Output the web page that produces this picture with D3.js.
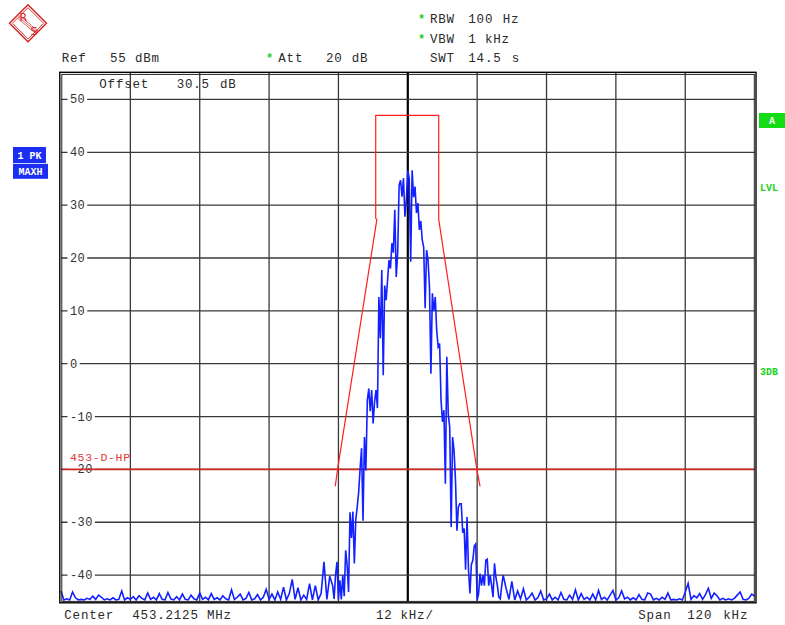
<!DOCTYPE html>
<html lang="en">
<head>
<meta charset="UTF-8">
<title>Spectrum 453.2125 MHz</title>
<script src="https://d3js.org/d3.v7.min.js"></script>
<style>
  body { margin: 0; background: #fff; }
  svg text { font-family: "Liberation Mono", "DejaVu Sans Mono", monospace; }
</style>
</head>
<body>
<script>
// span and level axis
const spanKHz = [-60, 60];
const levelRange = [-45, 55];
const levelTicks = [50, 40, 30, 20, 10, 0, -10, -20, -30, -40];
const freqGrid = [-48, -36, -24, -12, 0, 12, 24, 36, 48];
const limitLevel = -20;

// spectrum mask (kHz offset / dB)
const maskFreq = [-12.55, -12.15, -5.35, -5.55, -5.55, 5.35, 5.35, 11.95, 12.5];
const maskLevel = [-23.2, -20, 27.3, 27.5, 47, 47, 27.3, -20, -23.2];

// trace, left noise floor: -60 .. -13.5 kHz, 0.5 kHz steps
const floorLeft = [
  -43, -44.7, -44.5, -44.7, -43.2, -44.3, -44.7, -44.6, -44.7, -44.4,
  -44.6, -44, -44.6, -43.8, -44.2, -44.7, -44.5, -44.7, -44.3, -44.7,
  -44.6, -43, -44.7, -44.3, -44.6, -44.1, -44.7, -43.9, -44.4, -44.7,
  -43.4, -44.6, -44.2, -44.7, -43.5, -44.6, -44.7, -43.3, -44.5, -44.7,
  -44.1, -44.7, -43.6, -44.6, -44.7, -43.8, -44.5, -44.7, -43.4, -44.6,
  -44.2, -44.7, -43.5, -44.6, -44.3, -44.7, -43.9, -44.5, -44.7, -42.8,
  -44.6, -44.2, -43.6, -44.7, -44.4, -43.3, -44.7, -44.5, -43.7, -44.7,
  -44.2, -42.7, -44.6, -43.6, -44.7, -43.2, -44.6, -42.3, -44.7, -43.5,
  -40.8, -44.6, -42.4, -44.7, -43.8, -44.6, -41.6, -44.7, -42, -44.7,
  -43.5, -37.5, -44.6, -40.2
];

// trace, signal core: -13 .. 16.5 kHz, 0.25 kHz steps
const core = [
  -42, -44.5, -40, -37.5, -44.6, -41, -44.6, -40, -44, -35.3,
  -38, -43.2, -28.1, -33, -28, -37.8, -29.5, -27.1, -24.3, -19.8,
  -16, -29.7, -13.9, -20.2, -6.9, -4.7, -9, -5, -11.3, -7.2,
  -5, -8.4, 12.6, 4.8, 17.7, -2.2, 14.8, 12, 15.8, 19.6,
  18, 22.8, 21, 29.1, 16.4, 21, 33.8, 34.7, 31.6, 35.1,
  27.8, 31, 36.6, 35, 19.3, 36.6, 31.5, 33.5, 28.5, 30.4,
  25.3, 27, 23.4, 22, 10.5, 21.5, 19.6, 14.5, -1.9, 13.3,
  10, 12.6, 6.3, 3.2, 3.8, -6.9, -11, -8.8, -22.7, 1.3,
  -9.5, -12, -30.9, -13.9, -16.4, -22, -31.6, -27.1, -26.5, -26.5,
  -32, -31.2, -39, -29, -39, -43.5, -38, -37.2, -34.5, -34.1,
  -44.8, -43.5, -39.7, -42, -40, -42, -37.2, -37, -42, -40,
  -42, -44.2, -37.8, -40.5, -42, -44.2, -44.5, -42, -40
];

// trace, right noise floor: 17 .. 60 kHz, 0.5 kHz steps
const floorRight = [
  -42.5, -44.6, -41.2, -44.7, -43, -44.5, -42.6, -44.7, -44.2, -43.4,
  -44.7, -44.3, -43, -44.7, -44.5, -43.6, -44.7, -44.2, -44.7, -43.3,
  -44.6, -44.7, -43.8, -44.6, -42.8, -44.7, -43.5, -44.6, -44.2, -44.7,
  -43.6, -44.7, -42.9, -44.6, -44.2, -44.7, -43.8, -42.9, -44.7, -44.3,
  -43, -44.5, -44.2, -44.7, -44.3, -44.7, -43.7, -44.6, -44.7, -43.4,
  -43.6, -44.7, -44.4, -44.7, -44.2, -44.6, -43.4, -44.7, -44.6, -44.7,
  -44.5, -44.7, -43.2, -41.6, -44.6, -43.9, -44.3, -43.5, -44.6, -43.7,
  -42.5, -44.4, -43.4, -43.9, -44.7, -44.4, -44.7, -44.5, -44.7, -44.4,
  -43.8, -43.2, -44.6, -44.7, -44.4, -43.6, -44
];

const W = 785, H = 625;
const plotL = 61, plotR = 754.6, plotT = 73, plotB = 601.5;
const textCol = "#2a2a2a";
const fs = 12.5;

const svg = d3.select("body").append("svg")
  .attr("width", W)
  .attr("height", H);

const x = d3.scaleLinear().domain(spanKHz).range([plotL, plotR]);
const y = d3.scaleLinear().domain(levelRange).range([plotB, plotT]);

// grid
const grid = svg.append("g");
grid.selectAll("line.v").data(freqGrid).join("line")
  .attr("x1", d => x(d)).attr("x2", d => x(d))
  .attr("y1", plotT).attr("y2", plotB)
  .attr("stroke", d => d === 0 ? "#000" : "#3a3a3a")
  .attr("stroke-width", d => d === 0 ? 2.2 : 1.3);
grid.selectAll("line.h").data(levelTicks).join("line")
  .attr("x1", plotL).attr("x2", plotR)
  .attr("y1", d => y(d)).attr("y2", d => y(d))
  .attr("stroke", "#3a3a3a")
  .attr("stroke-width", 1.3);

// level labels sitting on the grid lines
const lab = svg.append("g");
levelTicks.forEach(v => {
  const g = lab.append("g");
  const bg = g.append("rect").attr("fill", "#fff");
  const t = g.append("text")
    .attr("x", 70).attr("y", y(v) + 4)
    .attr("font-size", 12).attr("letter-spacing", 0.4)
    .attr("fill", "#333")
    .text(v < 0 ? "-" + Math.abs(v) : v);
  const w = t.node().getComputedTextLength();
  bg.attr("x", 67.5).attr("y", y(v) - 2).attr("width", w + 4.5).attr("height", 4);
});

// limit line
svg.append("line")
  .attr("x1", plotL).attr("x2", plotR)
  .attr("y1", y(limitLevel)).attr("y2", y(limitLevel))
  .attr("stroke", "#cc2a22").attr("stroke-width", 1.6);
svg.append("text")
  .attr("x", 70).attr("y", 461)
  .attr("font-size", 11.5).attr("letter-spacing", 0.7)
  .attr("fill", "#e23a3a")
  .text("453-D-HP");

// mask
const mask = maskFreq.map((f, i) => [f, maskLevel[i]]);
svg.append("path")
  .datum(mask)
  .attr("fill", "none")
  .attr("stroke", "#ff1f1f")
  .attr("stroke-width", 1.2)
  .attr("d", d3.line().x(d => x(d[0])).y(d => y(d[1])));

// trace
const trace = [];
floorLeft.forEach((v, i) => trace.push([-60 + 0.5 * i, v]));
core.forEach((v, i) => trace.push([-13 + 0.25 * i, v]));
floorRight.forEach((v, i) => trace.push([17 + 0.5 * i, v]));

svg.append("path")
  .datum(trace)
  .attr("fill", "none")
  .attr("stroke", "#1320ff")
  .attr("stroke-width", 1.6)
  .attr("stroke-linejoin", "miter")
  .attr("d", d3.line().x(d => x(d[0])).y(d => y(d[1])));

// frame (double line)
svg.append("rect")
  .attr("x", 59.8).attr("y", 72.3).attr("width", 696.2).attr("height", 530.5)
  .attr("fill", "none").attr("stroke", "#000").attr("stroke-width", 1.4);
svg.append("rect")
  .attr("x", 61.8).attr("y", 74.4).attr("width", 692.5).attr("height", 527)
  .attr("fill", "none").attr("stroke", "#222").attr("stroke-width", 1);

// header / footer words
function word(s, px, py, col) {
  svg.append("text")
    .attr("x", px).attr("y", py)
    .attr("font-size", fs).attr("letter-spacing", 0.8)
    .attr("fill", col || textCol)
    .text(s);
}
function star(px, py) {
  svg.append("text")
    .attr("x", px).attr("y", py)
    .attr("font-size", 12).attr("font-weight", "bold")
    .attr("fill", "#1ed01e")
    .text("*");
}

word("Ref", 61.7, 62); word("55", 110, 62); word("dBm", 135, 62);
star(266, 62);
word("Att", 278.3, 62); word("20", 326, 62); word("dB", 351.7, 62);
star(418, 23); word("RBW", 430, 23); word("100", 468.3, 23); word("Hz", 502.7, 23);
star(418, 43); word("VBW", 430, 43); word("1", 468.3, 43); word("kHz", 485, 43);
word("SWT", 430, 62); word("14.5", 468.3, 62); word("s", 511.7, 62);
word("Offset", 99.3, 88); word("30.5", 176.7, 88); word("dB", 220, 88);
word("Center", 64.3, 619); word("453.2125", 132.3, 619); word("MHz", 207, 619);
word("12", 376, 619); word("kHz/", 400.5, 619);
word("Span", 638.3, 619); word("120", 687.3, 619); word("kHz", 723.3, 619);

// trace info boxes
const boxes = [
  { label: "1 PK", x: 13, y: 147, w: 33, h: 16, fill: "#1c2ef2" },
  { label: "MAXH", x: 13, y: 163.8, w: 35, h: 15, fill: "#1c2ef2" },
  { label: "A", x: 759, y: 113, w: 26, h: 15, fill: "#14dc14" }
];
boxes.forEach(b => {
  svg.append("rect").attr("x", b.x).attr("y", b.y)
    .attr("width", b.w).attr("height", b.h).attr("fill", b.fill);
  svg.append("text")
    .attr("x", b.x + b.w / 2).attr("y", b.y + b.h - 4)
    .attr("text-anchor", "middle")
    .attr("font-size", 10).attr("font-weight", "bold")
    .attr("fill", "#fff")
    .text(b.label);
});

// green side labels
[["LVL", 191], ["3DB", 374.5]].forEach(d => {
  svg.append("text")
    .attr("x", 760).attr("y", d[1])
    .attr("font-size", 10).attr("font-weight", "bold")
    .attr("fill", "#22d022")
    .text(d[0]);
});

// R&S logo
const logo = svg.append("g").attr("transform", "translate(28,23.3)");
const red = "#d42020";
logo.append("path").attr("d", "M-18.5,0L0,-18.5L18.5,0L0,18.5Z")
  .attr("fill", "#fff").attr("stroke", red).attr("stroke-width", 1.4);
logo.append("path").attr("d", "M-15.6,0L0,-15.6L15.6,0L0,15.6Z")
  .attr("fill", "none").attr("stroke", red).attr("stroke-width", 0.9);
[-1.2, 0, 1.2].forEach(o => {
  logo.append("line")
    .attr("x1", -9 + o).attr("y1", -6 - o)
    .attr("x2", 9 + o).attr("y2", 9 - o)
    .attr("stroke", red).attr("stroke-width", 0.7);
});
logo.append("text").attr("x", -8.5).attr("y", -2.5)
  .style("font-family", "'DejaVu Sans', sans-serif").style("font-size", "11px")
  .attr("fill", red).text("R");
logo.append("text").attr("x", 2.5).attr("y", 11.5)
  .style("font-family", "'DejaVu Sans', sans-serif").style("font-size", "11px")
  .attr("fill", red).text("S");
</script>
</body>
</html>
